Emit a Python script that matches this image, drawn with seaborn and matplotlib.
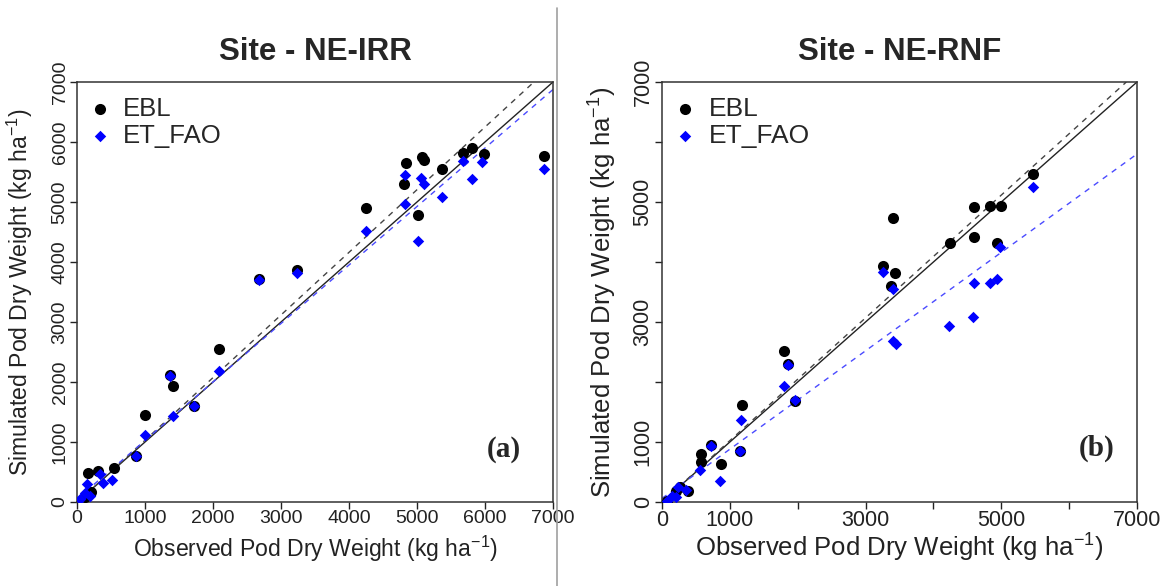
import numpy as np
import pandas as pd
import matplotlib
matplotlib.use('Agg')
import matplotlib.pyplot as plt
from matplotlib.lines import Line2D
import seaborn as sns

# ---- data (kg/ha) ----
irr_ebl_obs = [4835, 5071, 5110, 4813, 5022, 4253, 5363, 5681, 5813, 5984, 6874, 3236, 2681,
               2093, 1363, 1407, 1000, 1714, 874, 549, 166, 313, 120, 200]
irr_ebl_sim = [5656, 5750, 5694, 5294, 4789, 4906, 5556, 5817, 5906, 5800, 5761, 3867, 3722,
               2556, 2122, 1928, 1444, 1606, 767, 572, 478, 517, 90, 160]
irr_fao_obs = [4830, 5060, 5104, 4819, 5022, 4253, 5363, 5676, 5802, 5962, 6863, 3236, 2681,
               2088, 1363, 1407, 1000, 1720, 874, 519, 387, 338, 142, 191, 118, 40]
irr_fao_sim = [5456, 5400, 5306, 4972, 4350, 4522, 5089, 5678, 5389, 5667, 5544, 3822, 3706,
               2183, 2094, 1428, 1117, 1594, 767, 361, 322, 461, 294, 100, 156, 56]

rnf_ebl_obs = [5469, 4595, 4841, 5003, 3407, 4251, 4595, 4938, 3260, 3431, 3382, 1791, 1857,
               1967, 1178, 1152, 722, 580, 580, 864, 383, 261, 210, 80]
rnf_ebl_sim = [5467, 4911, 4933, 4933, 4728, 4322, 4422, 4311, 3933, 3822, 3600, 2522, 2306,
               1683, 1622, 856, 956, 795, 667, 633, 178, 250, 190, 20]
rnf_fao_obs = [5469, 4978, 4595, 4841, 4938, 3260, 3407, 4231, 4585, 3399, 3455, 1857, 1796,
               1967, 1169, 1152, 722, 565, 849, 359, 236, 212, 150, 80]
rnf_fao_sim = [5244, 4244, 3644, 3656, 3711, 3839, 3544, 2939, 3089, 2678, 2628, 2289, 1928,
               1706, 1361, 856, 933, 528, 345, 195, 250, 83, 94, 20]

# regression lines (intercept, slope)
irr_fit = {'EBL': (-15, 1.044), 'ET_FAO': (50, 0.975)}
rnf_fit = {'EBL': (0, 1.023), 'ET_FAO': (60, 0.82)}

ticks = list(range(0, 7001, 1000))
irr_ticklabels = [str(t) for t in ticks]
rnf_ticklabels = ['0', '1000', '', '3000', '', '5000', '', '7000']

sns.set_style('ticks')
plt.rcParams['font.family'] = ['Liberation Sans', 'DejaVu Sans']
plt.rcParams['mathtext.fontset'] = 'custom'
plt.rcParams['mathtext.rm'] = 'Liberation Sans'
plt.rcParams['mathtext.it'] = 'Liberation Sans:italic'


def panel(ax, ebl_obs, ebl_sim, fao_obs, fao_sim, fit, title, tag, labels, fs):
    sns.scatterplot(x=ebl_obs, y=ebl_sim, ax=ax, color='black', marker='o', s=64,
                    linewidth=0, label='EBL', zorder=3)
    sns.scatterplot(x=fao_obs, y=fao_sim, ax=ax, color='#0000ff', marker='D', s=34,
                    linewidth=0, label='ET_FAO', zorder=4)
    ax.axline((0, 0), slope=1, color='#222222', lw=1.0, zorder=2)
    b, m = fit['EBL']
    ax.axline((0, b), slope=m, color='#444444', lw=1.0, ls=(0, (4, 4)), zorder=2)
    b, m = fit['ET_FAO']
    ax.axline((0, b), slope=m, color='#4a4aff', lw=1.0, ls=(0, (4, 4)), zorder=2)

    ax.set_xlim(0, 7000)
    ax.set_ylim(0, 7000)
    ax.set_xticks(ticks)
    ax.set_yticks(ticks)
    ax.set_xticklabels(labels, fontsize=fs['tick'])
    ax.set_yticklabels(labels, fontsize=fs['tick'], rotation=90, va='center')
    ax.tick_params(direction='out', length=5, width=1, colors='#222222', pad=1)
    for sp in ax.spines.values():
        sp.set_visible(True)
        sp.set_linewidth(1.1)
        sp.set_color('#333333')

    ax.set_title(title, fontsize=22.5, fontweight='bold', pad=16)
    ax.set_xlabel(r'Observed Pod Dry Weight (kg ha$^{-1}$)', fontsize=fs['label'], color='#222222')
    ax.set_ylabel(r'Simulated Pod Dry Weight (kg ha$^{-1}$)', fontsize=fs['label'], color='#222222')
    ax.xaxis.set_label_coords(0.5, fs['xl'])
    ax.yaxis.set_label_coords(fs['yl'], 0.5)

    ax.legend(loc='upper left', bbox_to_anchor=(0.021, 0.964), frameon=False,
              fontsize=fs['leg'], handlelength=1.0, handletextpad=0.4,
              labelspacing=0.1, borderpad=0, borderaxespad=0, markerscale=1.0)
    ax.text(fs['tx'], fs['ty'], tag, transform=ax.transAxes, ha='center', va='center',
            fontsize=21, fontweight='bold', family=['Liberation Serif', 'DejaVu Serif'])


fig = plt.figure(figsize=(11.63, 5.86), dpi=100)
ax1 = fig.add_axes([77 / 1163, 84 / 586, 476 / 1163, 420 / 586])
ax2 = fig.add_axes([662 / 1163, 84 / 586, 475 / 1163, 420 / 586])

panel(ax1, irr_ebl_obs, irr_ebl_sim, irr_fao_obs, irr_fao_sim, irr_fit,
      'Site - NE-IRR', '(a)', irr_ticklabels,
      {'tick': 14, 'label': 16.6, 'leg': 18.5, 'xl': -0.075, 'yl': -0.088,
       'tx': 0.896, 'ty': 0.124})
panel(ax2, rnf_ebl_obs, rnf_ebl_sim, rnf_fao_obs, rnf_fao_sim, rnf_fit,
      'Site - NE-RNF', '(b)', rnf_ticklabels,
      {'tick': 15.5, 'label': 18.5, 'leg': 19, 'xl': -0.071, 'yl': -0.0905,
       'tx': 0.916, 'ty': 0.127})

# divider between the two panels
fig.add_artist(Line2D([557 / 1163, 557 / 1163], [0, 1 - 8 / 586], color='#a0a0a0', lw=1.2))

fig.savefig('out.png', dpi=100)
